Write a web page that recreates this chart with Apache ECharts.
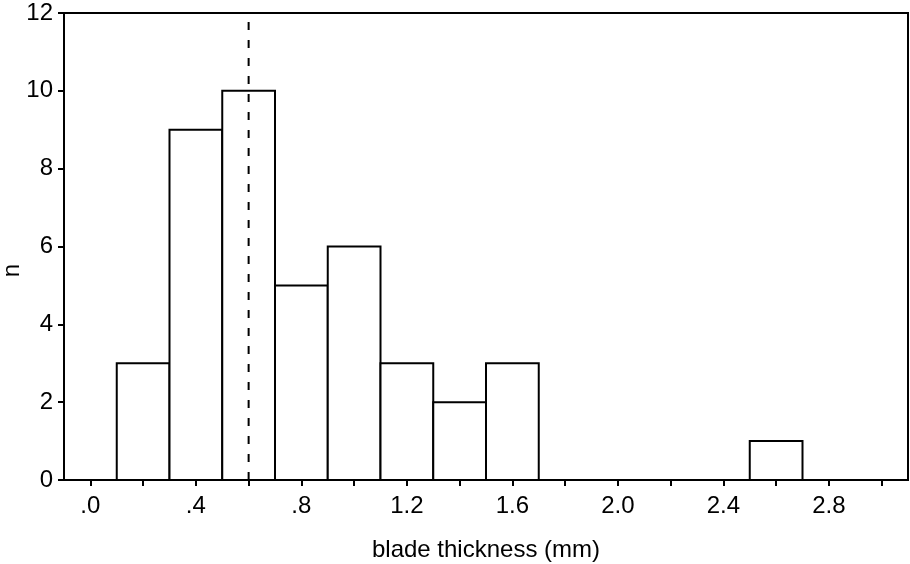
<!DOCTYPE html>
<html>
<head>
<meta charset="utf-8">
<script src="https://cdn.jsdelivr.net/npm/echarts@6/dist/echarts.min.js"></script>
<style>
  html, body { margin: 0; padding: 0; background: #fff; }
  #hist { width: 910px; height: 564px; }
</style>
</head>
<body>
<div id="hist"></div>
<script>
// histogram bins (mm) and counts
var binStart = [0.1, 0.3, 0.5, 0.7, 0.9, 1.1, 1.3, 1.5, 2.5];
var binEnd   = [0.3, 0.5, 0.7, 0.9, 1.1, 1.3, 1.5, 1.7, 2.7];
var counts   = [3, 9, 10, 5, 6, 3, 2, 3, 1];

var xTicks  = [0, 0.2, 0.4, 0.6, 0.8, 1.0, 1.2, 1.4, 1.6, 1.8, 2.0, 2.2, 2.4, 2.6, 2.8, 3.0];
var xLabels = [0, 0.4, 0.8, 1.2, 1.6, 2.0, 2.4, 2.8];
var meanLine = 0.6;

var font = 'Liberation Sans, Arial, Helvetica, sans-serif';

var myChart = echarts.init(document.getElementById('hist'));

var barData = [];
for (var i = 0; i < counts.length; i++) {
    barData.push([binStart[i], binEnd[i], counts[i]]);
}

var option = {
    animation: false,
    grid: {
        left: 64,
        top: 13,
        right: 2,
        bottom: 84,
        outerBoundsMode: 'none',
        containLabel: false,
        show: true,
        borderColor: '#000',
        borderWidth: 2,
        backgroundColor: 'transparent'
    },
    xAxis: {
        type: 'value',
        min: -0.1,
        max: 3.1,
        name: 'blade thickness (mm)',
        nameLocation: 'middle',
        nameGap: 58,
        nameMoveOverlap: false,
        nameTextStyle: { fontFamily: font, fontSize: 24, color: '#000' },
        axisLine: { show: true, onZero: false, lineStyle: { color: '#000', width: 2 } },
        axisTick: {
            show: true,
            length: 6,
            customValues: xTicks,
            lineStyle: { color: '#000', width: 2 }
        },
        axisLabel: {
            customValues: xLabels,
            margin: 14,
            fontFamily: font,
            fontSize: 24,
            color: '#000',
            formatter: function (v) {
                var s = v.toFixed(1);
                return s.charAt(0) === '0' ? s.slice(1) : s;
            }
        },
        splitLine: { show: false }
    },
    yAxis: {
        type: 'value',
        min: 0,
        max: 12,
        interval: 2,
        name: 'n',
        nameLocation: 'middle',
        nameGap: 40,
        nameMoveOverlap: false,
        nameTextStyle: { fontFamily: font, fontSize: 24, color: '#000', padding: [0, 48, 0, 0] },
        axisLine: { show: true, onZero: false, lineStyle: { color: '#000', width: 2 } },
        axisTick: { show: true, length: 6, lineStyle: { color: '#000', width: 2 } },
        axisLabel: { margin: 11, fontFamily: font, fontSize: 24, color: '#000' },
        splitLine: { show: false }
    },
    series: [
        {
            type: 'custom',
            encode: { x: [0, 1], y: 2 },
            data: barData,
            renderItem: function (params, api) {
                var p0 = api.coord([api.value(0), 0]);
                var p1 = api.coord([api.value(1), api.value(2)]);
                return {
                    type: 'rect',
                    shape: { x: p0[0], y: p1[1], width: p1[0] - p0[0], height: p0[1] - p1[1] },
                    style: { fill: '#fff', stroke: '#000', lineWidth: 2 }
                };
            },
            z: 2
        },
        {
            type: 'line',
            data: [[meanLine, 0], [meanLine, 12]],
            symbol: 'none',
            lineStyle: { color: '#000', width: 2, type: [8, 10] },
            z: 3
        }
    ]
};

myChart.setOption(option);
</script>
</body>
</html>
